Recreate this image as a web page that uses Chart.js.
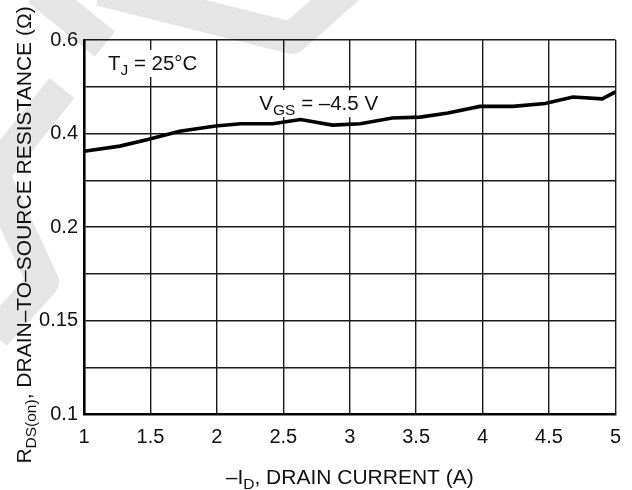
<!DOCTYPE html>
<html><head><meta charset="utf-8">
<script src="https://cdn.jsdelivr.net/npm/chart.js@4"></script>
<style>html,body{margin:0;padding:0;background:#fff;overflow:hidden}</style>
</head><body>
<canvas id="c" width="632" height="490"></canvas>
<script>
// ---- data ----
const drainCurrent = [1.00, 1.27, 1.48, 1.72, 1.99, 2.18, 2.42, 2.63, 2.87, 3.08, 3.32, 3.53, 3.74, 3.98, 4.23, 4.47, 4.68, 4.90, 5.00];
// position on the (non-uniformly labelled) vertical grid: 0 = bottom line "0.1", 8 = top line "0.6"
const rdsGridPos   = [5.62, 5.73, 5.87, 6.05, 6.16, 6.21, 6.21, 6.30, 6.18, 6.21, 6.33, 6.35, 6.44, 6.58, 6.58, 6.64, 6.78, 6.74, 6.89];
const xTickLabels  = ["1", "1.5", "2", "2.5", "3", "3.5", "4", "4.5", "5"];
const yTickLabels  = ["0.1", "", "0.15", "", "0.2", "", "0.4", "", "0.6"];
const xTitle   = [{t:"–I"}, {t:"D", sub:true}, {t:", DRAIN CURRENT (A)"}];
const yTitle   = [{t:"R"}, {t:"DS(on)", sub:true}, {t:", DRAIN–TO–SOURCE RESISTANCE (Ω)"}];
const tjLabel  = [{t:"T"}, {t:"J", sub:true}, {t:" = 25°C"}];
const vgsLabel = [{t:"V"}, {t:"GS", sub:true}, {t:" = –4.5 V"}];
const tjAnchor  = {x: 1.18, y: 7.36};
const vgsAnchor = {x: 2.32, y: 6.50};

const FONT = '"Liberation Sans", Arial, Helvetica, sans-serif';

function richWidth(ctx, parts, size, subSize) {
  let w = 0;
  for (const p of parts) {
    ctx.font = (p.sub ? subSize : size) + 'px ' + FONT;
    w += ctx.measureText(p.t).width;
  }
  return w;
}
function drawRich(ctx, parts, x, y, size, subSize, subDy, align) {
  const w = richWidth(ctx, parts, size, subSize);
  let cx = align === 'center' ? x - w / 2 : x;
  ctx.textBaseline = 'alphabetic';
  ctx.textAlign = 'left';
  ctx.fillStyle = '#111';
  for (const p of parts) {
    ctx.font = (p.sub ? subSize : size) + 'px ' + FONT;
    ctx.fillText(p.t, cx, y + (p.sub ? subDy : 0));
    cx += ctx.measureText(p.t).width;
  }
  return w;
}

const decor = {
  id: 'decor',
  beforeDatasetsDraw(chart) {
    const ctx = chart.ctx, xs = chart.scales.x, ys = chart.scales.y;
    ctx.save();
    // in-plot labels with white boxes
    [[tjLabel, tjAnchor], [vgsLabel, vgsAnchor]].forEach(([parts, a]) => {
      const px = xs.getPixelForValue(a.x), py = ys.getPixelForValue(a.y);
      const w = richWidth(ctx, parts, 20.5, 15.5);
      ctx.fillStyle = '#fff';
      ctx.fillRect(px - 7, py - 20, w + 14, 27);
      drawRich(ctx, parts, px, py, 20.5, 15.5, 5, 'left');
    });
    ctx.restore();
  },
  afterDraw(chart) {
    const ctx = chart.ctx, a = chart.chartArea;
    ctx.save();
    // axis titles
    drawRich(ctx, xTitle, (a.left + a.right) / 2, 484, 21, 15.5, 5, 'center');
    ctx.translate(31, 235);
    ctx.rotate(-Math.PI / 2);
    drawRich(ctx, yTitle, 0, 0, 21, 15.5, 5, 'center');
    ctx.restore();
    // faint watermark
    ctx.save();
    ctx.strokeStyle = 'rgba(0,0,0,0.10)';
    ctx.lineWidth = 32;
    ctx.lineJoin = 'round';
    ctx.lineCap = 'butt';
    ctx.beginPath();
    ctx.moveTo(38, -10); ctx.lineTo(105, 44);
    ctx.moveTo(100, -10); ctx.lineTo(292, 38); ctx.lineTo(352, -15);
    ctx.moveTo(62, 88); ctx.lineTo(-5, 172);
    ctx.moveTo(-5, 178); ctx.lineTo(43, 282); ctx.lineTo(-5, 335);
    ctx.stroke();
    ctx.restore();
  }
};

new Chart(document.getElementById('c'), {
  type: 'line',
  data: {
    datasets: [{
      data: drainCurrent.map((x, i) => ({x: x, y: rdsGridPos[i]})),
      borderColor: '#000',
      borderWidth: 3.6,
      pointRadius: 0,
      tension: 0,
      fill: false
    }]
  },
  options: {
    responsive: false,
    animation: false,
    devicePixelRatio: 1,
    layout: {padding: {top: 40, right: 13, left: 0, bottom: 0}},
    plugins: {legend: {display: false}, tooltip: {enabled: false}},
    scales: {
      x: {
        type: 'linear', min: 1, max: 5,
        afterFit: s => { s.height = 76; },
        ticks: {stepSize: 0.5, padding: 11, color: '#111', font: {family: FONT, size: 20},
                callback: (v) => xTickLabels[Math.round((v - 1) * 2)]},
        grid: {color: '#1a1a1a', lineWidth: 1.4, drawTicks: false},
        border: {display: true, color: '#000', width: 2.6}
      },
      y: {
        type: 'linear', min: 0, max: 8,
        afterFit: s => { s.width = 84; },
        ticks: {stepSize: 1, padding: 6, color: '#111', font: {family: FONT, size: 20},
                callback: (v) => yTickLabels[v]},
        grid: {color: '#1a1a1a', lineWidth: 1.4, drawTicks: false},
        border: {display: true, color: '#000', width: 2.6}
      }
    }
  },
  plugins: [decor]
});
</script>
</body></html>
